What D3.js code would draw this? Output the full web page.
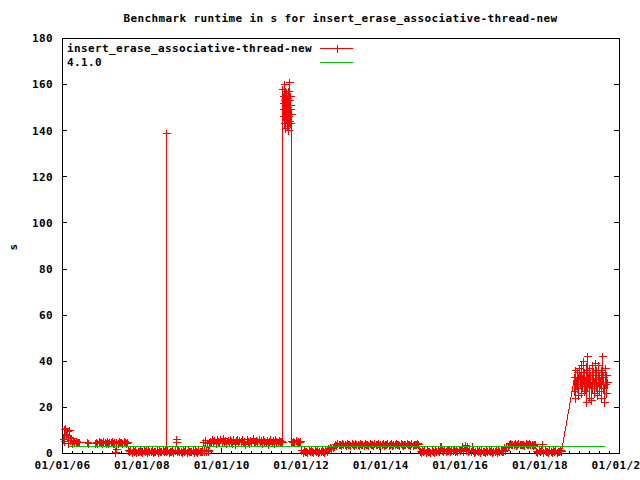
<!DOCTYPE html>
<html><head><meta charset="utf-8">
<script src="https://cdn.jsdelivr.net/npm/d3@7"></script>
<style>
html,body{margin:0;padding:0;background:#fff;}
svg text{font-family:"DejaVu Sans Mono","Liberation Mono",monospace;font-weight:bold;font-size:11px;letter-spacing:0.38px;fill:#000;}
</style></head><body>
<svg id="c" width="640" height="480"></svg>
<script>
const chartTitle = "Benchmark runtime in s for insert_erase_associative-thread-new";
const seriesNames = ["insert_erase_associative-thread-new", "4.1.0"];
const yLabel = "s";
const xTickDates = ["2006-01-01","2008-01-01","2010-01-01","2012-01-01","2014-01-01","2016-01-01","2018-01-01","2020-01-01"];
const yTickValues = [0,20,40,60,80,100,120,140,160,180];

// decimal years of each run
const runYears = [
2006.02,2006.04,2006.06,2006.08,2006.10,2006.12,2006.14,2006.16,2006.18,2006.20,2006.22,2006.25,2006.28,2006.31,2006.34,2006.37,2006.40,
2006.42,2006.64,2006.66,2006.84,
2006.86,2006.89,2006.92,2006.95,2006.98,2007.01,2007.04,2007.07,2007.10,2007.13,2007.16,2007.19,2007.22,2007.25,2007.28,2007.31,2007.33,2007.35,2007.37,2007.40,2007.43,2007.46,2007.49,2007.52,2007.55,2007.58,2007.61,2007.63,
2007.66,2007.69,2007.72,2007.75,2007.78,2007.81,2007.84,2007.87,2007.90,2007.93,2007.96,2007.99,
2008.02,2008.05,2008.08,2008.11,2008.14,2008.17,2008.20,2008.23,2008.26,2008.29,2008.32,2008.35,2008.38,2008.41,2008.44,2008.47,2008.50,2008.53,2008.56,2008.59,
2008.604,2008.612,2008.620,
2008.65,2008.68,2008.71,2008.74,2008.77,2008.80,2008.83,
2008.86,2008.87,
2008.89,2008.92,2008.95,2008.98,
2009.01,2009.04,2009.07,2009.10,2009.13,2009.16,2009.19,2009.22,2009.25,2009.28,2009.31,2009.34,2009.37,2009.40,2009.43,2009.46,2009.49,2009.52,
2009.54,2009.56,2009.58,2009.60,2009.62,2009.64,2009.66,2009.68,
2009.71,2009.74,2009.77,2009.80,2009.83,2009.86,2009.89,2009.92,2009.95,2009.98,
2010.01,2010.04,2010.07,2010.10,2010.13,2010.16,2010.19,2010.22,2010.25,2010.28,2010.31,2010.34,2010.37,2010.40,2010.43,2010.46,2010.49,2010.52,2010.55,2010.58,2010.61,2010.64,2010.67,2010.70,2010.73,2010.76,2010.79,2010.82,2010.85,2010.88,2010.91,2010.94,2010.97,
2011.00,2011.03,2011.06,2011.09,2011.12,2011.15,2011.18,2011.21,2011.24,2011.27,2011.30,2011.33,2011.36,2011.39,2011.42,2011.45,2011.48,
2011.51,2011.53,
2011.535,2011.543,2011.550,2011.558,2011.566,2011.573,2011.581,2011.589,2011.596,2011.604,2011.612,2011.619,2011.627,2011.635,2011.642,2011.650,2011.658,2011.665,2011.673,2011.681,2011.688,2011.696,2011.704,2011.711,2011.719,2011.727,2011.734,2011.742,2011.750,
2011.752,2011.78,2011.81,2011.84,2011.87,2011.90,2011.93,2011.96,2011.99,
2012.02,2012.05,2012.08,2012.11,2012.14,2012.17,2012.20,2012.23,2012.26,2012.29,2012.32,2012.35,2012.38,2012.41,2012.44,2012.47,2012.50,2012.53,2012.56,2012.59,2012.62,2012.65,
2012.68,2012.71,2012.74,2012.77,2012.80,2012.83,
2012.86,2012.89,2012.92,2012.95,2012.98,
2013.01,2013.04,2013.07,2013.10,2013.13,2013.16,2013.19,2013.22,2013.25,2013.28,2013.31,2013.34,2013.37,2013.40,2013.43,2013.46,2013.49,2013.52,2013.55,2013.58,2013.61,2013.64,2013.67,2013.70,2013.73,2013.76,2013.79,2013.82,2013.85,2013.88,2013.91,2013.94,2013.97,
2014.00,2014.03,2014.06,2014.09,2014.12,2014.15,2014.18,2014.21,2014.24,2014.27,2014.30,2014.33,2014.36,2014.39,2014.42,2014.45,2014.48,2014.51,2014.54,2014.57,2014.60,2014.63,2014.66,2014.69,2014.72,2014.75,2014.78,2014.81,2014.84,2014.87,2014.90,2014.93,2014.96,
2014.99,2015.02,2015.05,2015.08,2015.11,2015.14,2015.17,2015.20,2015.23,2015.26,2015.29,2015.32,2015.35,2015.38,2015.41,2015.44,2015.47,
2015.49,2015.52,
2015.55,2015.58,2015.61,2015.64,2015.67,2015.70,2015.73,2015.76,2015.79,2015.82,2015.85,2015.88,2015.91,2015.94,2015.97,
2016.00,2016.03,2016.06,2016.09,2016.12,2016.15,2016.18,2016.21,2016.24,
2016.27,2016.30,2016.33,2016.36,2016.39,2016.42,2016.45,2016.48,2016.51,2016.54,2016.57,2016.60,2016.63,2016.66,2016.69,2016.72,2016.75,2016.78,2016.81,2016.84,2016.87,2016.90,2016.93,2016.96,2016.99,
2017.02,2017.05,2017.08,2017.11,2017.14,2017.17,2017.20,
2017.23,2017.26,2017.29,2017.32,2017.35,2017.38,2017.41,2017.44,2017.47,2017.50,2017.53,2017.56,2017.59,2017.62,2017.65,2017.68,2017.71,2017.74,2017.77,2017.80,2017.83,2017.86,2017.89,
2017.92,2017.95,2017.98,
2018.01,2018.04,2018.07,2018.10,2018.13,2018.16,2018.19,2018.22,2018.25,2018.28,2018.31,2018.34,2018.37,2018.40,2018.43,2018.46,2018.49,2018.52,2018.55,
2018.860,2018.875,2018.890,2018.905,2018.920,2018.935,2018.950,2018.965,2018.980,2018.995,
2019.010,2019.025,2019.040,2019.055,2019.070,2019.085,2019.100,2019.115,2019.130,2019.145,
2019.160,2019.175,2019.190,2019.205,2019.220,2019.235,2019.250,2019.265,2019.280,2019.295,
2019.310,2019.325,2019.340,2019.355,2019.370,2019.385,2019.400,2019.415,2019.430,2019.445,
2019.460,2019.475,2019.490,2019.505,2019.520,2019.535,2019.550,2019.565,2019.580,2019.595,
2019.610,2019.625,2019.640,2019.655,2019.670,2019.685,2019.700
];
// runtime in seconds of each run
const runSeconds = [
6,10.5,5,11,8,9.5,4.5,7,10,5.5,6.5,4.5,5.8,4.8,5.2,4.6,4.9,
4.8,4.7,4.2,4.2,
4.8,4.4,5.1,4.6,4.9,4.3,5.2,4.7,4.5,5.0,4.4,4.9,4.6,5.1,4.3,4.8,0.6,1.8,4.9,4.4,5.1,4.6,4.9,4.5,5.0,4.7,4.3,4.8,
1.2,0.7,1.3,0.6,1.1,0.8,1.4,0.6,1.0,0.7,1.3,0.9,
0.5,1.2,0.8,1.1,0.6,1.3,0.9,0.7,1.2,0.5,1.0,0.8,1.4,0.6,1.1,0.9,0.7,1.3,0.8,1.1,
1.0,139,0.9,
1.3,0.6,1.0,0.8,1.2,0.5,1.1,
4.8,6.2,
0.8,1.2,0.7,1.0,
0.6,1.3,0.9,1.1,0.5,1.2,0.8,1.0,0.7,1.4,0.6,1.1,0.9,0.5,1.2,0.8,1.0,0.7,
4.6,0.9,1.2,5.8,0.8,4.3,1.1,0.7,
5.4,4.6,6.0,5.0,5.7,4.5,6.2,5.2,4.8,5.9,
5.1,6.5,4.7,5.6,4.4,5.8,4.9,6.1,5.3,4.4,5.9,3.8,5.5,6.2,4.8,5.7,5.0,6.0,4.6,5.4,3.7,5.9,5.1,4.5,5.6,4.9,6.3,5.2,4.6,5.8,5.0,6.1,4.7,
5.5,4.4,6.0,5.1,4.8,5.7,3.9,5.3,6.2,4.9,5.6,4.5,6.0,5.2,4.7,5.8,5.0,
5.2,4.9,
158,152,146,155,149,160,143,153,147,157,141,151,145,156,148,154,142,150,140,157,146,153,144,161,149,155,143,151,147,
5.2,4.6,5.4,4.8,5.5,4.7,5.2,4.9,5.3,
1.1,0.6,1.3,0.8,1.0,0.5,1.2,0.7,1.4,0.9,0.6,1.1,0.8,1.3,0.5,1.0,0.7,1.2,0.9,0.6,1.1,0.8,
2.2,1.8,2.6,2.0,2.4,2.9,
3.9,3.5,4.2,3.7,4.1,
3.6,4.3,3.8,4.0,3.5,4.2,3.7,4.1,3.6,4.3,3.9,3.5,4.2,3.8,4.0,3.6,4.3,3.7,4.1,3.5,4.2,3.8,4.0,3.6,4.3,3.7,4.1,3.5,4.2,3.8,3.9,4.3,3.6,
4.0,3.7,4.2,3.5,4.1,3.8,4.3,3.6,3.9,4.2,3.5,4.0,3.7,4.3,3.8,4.1,3.6,4.2,3.9,3.5,4.1,3.7,4.3,3.8,4.0,3.6,4.2,3.5,3.9,4.1,3.7,4.3,3.8,
1.0,0.6,1.3,0.8,1.1,0.5,1.2,0.7,1.0,0.6,1.3,0.9,0.5,1.2,0.8,1.1,0.7,
3.0,3.2,
1.5,1.0,1.8,0.8,1.4,1.1,1.9,0.9,1.5,1.2,1.7,0.9,1.4,1.0,1.8,
1.2,1.6,3.2,1.0,3.4,1.5,3.1,0.9,1.3,
0.8,3.1,1.2,0.6,1.0,1.3,0.7,1.1,0.5,1.2,0.8,1.0,0.6,1.3,0.9,1.1,0.7,1.2,0.5,1.0,0.8,1.3,0.6,1.1,0.9,
1.2,0.7,1.0,2.8,1.1,3.2,2.9,
3.9,4.2,3.7,4.1,3.8,4.3,3.6,4.0,4.2,3.7,4.1,3.8,4.0,3.6,4.3,3.9,3.7,4.2,3.8,4.1,3.6,4.0,3.7,
1.0,0.6,1.2,
0.8,1.1,4.1,0.5,1.3,0.7,1.0,0.6,1.2,0.9,0.5,1.1,0.8,1.3,0.6,1.0,0.7,1.2,0.9,
33,27,36,24,31,35,28,33,25,37,
30,34,26,38,29,32,40,27,35,31,
22,36,42,29,33,24,37,30,34,23,
38,28,32,35,26,39,31,29,36,25,
33,38,27,34,30,36,24,35,42,28,
33,22,37,30,34,26,31
];
const refYears = [2006.15, 2019.62];
const refSeconds = [3.0, 3.0];

if (runYears.length !== runSeconds.length) console.error("length mismatch", runYears.length, runSeconds.length);

function yearToDate(v){
  const yr = Math.floor(v);
  const a = Date.UTC(yr,0,1), b = Date.UTC(yr+1,0,1);
  return new Date(a + (v - yr) * (b - a));
}
const parse = d3.utcParse("%Y-%m-%d");
const fmt = d3.utcFormat("%m/%d/%y");

const L = 62, R = 619, T = 38, B = 453;
const x = d3.scaleUtc().domain([parse(xTickDates[0]), parse(xTickDates[xTickDates.length-1])]).range([L, R]);
const y = d3.scaleLinear().domain([0, 180]).range([B, T]);

const svg = d3.select("#c");
svg.append("rect").attr("width",640).attr("height",480).attr("fill","#fff");

svg.append("text").attr("x",(L+R)/2).attr("y",22).attr("text-anchor","middle").text(chartTitle);
svg.append("text").attr("transform","translate(17,247) rotate(-90)").attr("text-anchor","middle").text(yLabel);

svg.append("rect").attr("x",L+0.5).attr("y",T+0.5).attr("width",R-L).attr("height",B-T)
  .attr("fill","none").attr("stroke","#000").attr("shape-rendering","crispEdges");

const majors = xTickDates.map(parse);
const minors = d3.utcMonth.every(3).range(majors[0], majors[majors.length-1]);
const gxMinor = svg.append("g").attr("transform",`translate(0,${B})`)
  .call(d3.axisBottom(x).tickValues(minors).tickSizeInner(-2.5).tickSizeOuter(0).tickFormat(""));
const gx = svg.append("g").attr("transform",`translate(0,${B})`)
  .call(d3.axisBottom(x).tickValues(majors).tickSizeInner(-5).tickSizeOuter(0).tickPadding(8).tickFormat(fmt));
const gy = svg.append("g").attr("transform",`translate(${L},0)`)
  .call(d3.axisLeft(y).tickValues(yTickValues).tickSizeInner(-5).tickSizeOuter(0).tickPadding(9));
const gyR = svg.append("g").attr("transform",`translate(${R},0)`)
  .call(d3.axisRight(y).tickValues(yTickValues).tickSizeInner(-5).tickSizeOuter(0).tickFormat(""));
[gxMinor,gx,gy,gyR].forEach(g=>{ g.select(".domain").remove(); g.attr("font-family",null).attr("font-size",null);
  g.selectAll("line").attr("shape-rendering","crispEdges"); });
gy.selectAll("text").attr("dy","0.35em");

const n = Math.min(runYears.length, runSeconds.length);
const runData = runYears.slice(0,n).map((v,i)=>({date:yearToDate(v), value:runSeconds[i]}));
const refData = refYears.map((v,i)=>({date:yearToDate(v), value:refSeconds[i]}));
const px = d => Math.round(x(d.date)) + 0.5;
const py = d => Math.round(y(d.value)) + 0.5;
const line = d3.line().x(px).y(py);

const red = "#ff0000", green = "#00c000";
svg.append("path").datum(runData).attr("d",line).attr("fill","none").attr("stroke",red)
  .attr("stroke-width",1).attr("shape-rendering","crispEdges");
const cs = 4;
svg.append("path").attr("fill","none").attr("stroke",red).attr("stroke-width",1).attr("shape-rendering","crispEdges")
  .attr("d", runData.map(d=>{const a=px(d), b=py(d); return `M${a-cs},${b}H${a+cs}M${a},${b-cs}V${b+cs}`;}).join(""));
svg.append("path").datum(refData).attr("d",line).attr("fill","none").attr("stroke",green)
  .attr("stroke-width",1).attr("shape-rendering","crispEdges");

const lgX = 67, lgY0 = 48, lgDy = 14, smp0 = 320, smp1 = 353;
const colors = [red, green];
seriesNames.forEach((s,i)=>{
  const yy = lgY0 + i*lgDy;
  svg.append("text").attr("x",lgX).attr("y",yy).attr("dy","0.35em").text(s);
  svg.append("line").attr("x1",smp0).attr("x2",smp1).attr("y1",yy+0.5).attr("y2",yy+0.5)
    .attr("stroke",colors[i]).attr("shape-rendering","crispEdges");
  if(i===0){
    const cx = Math.round((smp0+smp1)/2)+0.5;
    svg.append("path").attr("d",`M${cx-cs},${yy+0.5}H${cx+cs}M${cx},${yy+0.5-cs}V${yy+0.5+cs}`)
      .attr("stroke",red).attr("fill","none").attr("shape-rendering","crispEdges");
  }
});
</script>
</body></html>
